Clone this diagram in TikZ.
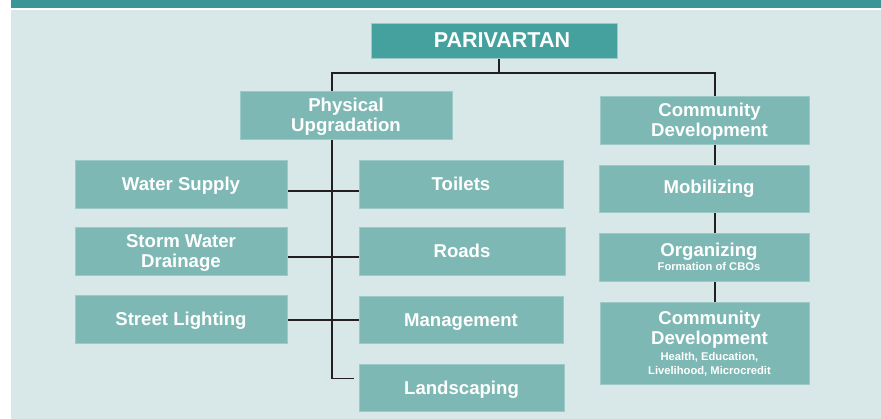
\documentclass[tikz,border=0pt]{standalone}
\usepackage{fontspec}
\setmainfont{Liberation Sans}
\usetikzlibrary{backgrounds}
\definecolor{bgc}{HTML}{D8E8E8}
\definecolor{barc}{HTML}{3A9599}
\definecolor{topc}{HTML}{45A19D}
\definecolor{boxc}{HTML}{7DB8B4}
\definecolor{edgec}{HTML}{9CCBC7}
\definecolor{linec}{HTML}{231F20}
\tikzset{
  box/.style={fill=boxc, draw=edgec, line width=0.6pt, inner sep=0pt, align=center,
    text=white, font=\fontsize{18.6}{20}\selectfont\bfseries},
  oneline/.style={text height=13.4pt, text depth=0pt},
  topbox/.style={box, fill=topc, font=\fontsize{21.5}{24}\selectfont\bfseries},
  conn/.style={draw=linec, line width=1.8pt},
}
\newcommand{\subtxt}[1]{{\fontsize{11.2}{14}\selectfont #1}}
\newcommand{\rsh}{\hspace*{10pt}}
\begin{document}
\begin{tikzpicture}[x=1pt,y=-1pt]
\useasboundingbox (0,0) rectangle (881,419);
% nodes
\node[topbox, minimum width=246pt, minimum height=35pt] (par) at (494,40.5) {\hspace*{16pt}PARIVARTAN};
\node[box, text depth=-1pt, minimum width=212pt, minimum height=48pt] (phys) at (346,115) {Physical\\Upgradation};
\node[box, text depth=-1pt, minimum width=209pt, minimum height=48pt] (cd) at (704.5,120) {\rsh Community\\\rsh Development};
\node[box, oneline, minimum width=212pt, minimum height=48pt] (ws) at (181,184) {Water Supply};
\node[box, oneline, minimum width=204pt, minimum height=48pt] (toi) at (461,184) {Toilets};
\node[box, text depth=-1pt, minimum width=212pt, minimum height=48pt] (swd) at (181,251) {Storm Water\\Drainage};
\node[box, oneline, minimum width=206pt, minimum height=48pt] (roads) at (462,251) {Roads};
\node[box, oneline, minimum width=212pt, minimum height=48pt] (sl) at (181,319) {Street Lighting};
\node[box, oneline, minimum width=204pt, minimum height=47pt] (mgmt) at (461,319.5) {Management};
\node[box, oneline, minimum width=205pt, minimum height=47pt] (land) at (461.5,387.5) {Landscaping};
\node[box, minimum width=210pt, minimum height=47pt] (mob) at (704,188.5) {\rsh Mobilizing};
\node[box, text depth=-5pt, minimum width=210pt, minimum height=48pt] (org) at (704,257) {\rsh Organizing\\[-6pt]\rsh\subtxt{Formation of CBOs}};
\node[box, text depth=-5pt, minimum width=209pt, minimum height=82pt] (cdtwo) at (704.5,343) {\rsh Community\\\rsh Development\\[-4pt]\rsh\subtxt{Health, Education,}\\[-6pt]\rsh\subtxt{Livelihood, Microcredit}};
% helper coordinates
\coordinate (jz) at (499,73);
\coordinate (tl) at (332,73);
\coordinate (tr) at (715,73);
\coordinate (bend) at (354,378.5);
\coordinate (ha) at (0,191);
\coordinate (hb) at (0,257);
\coordinate (hc) at (0,320);
\begin{pgfonlayer}{background}
  \fill[white] (0,0) rectangle (881,419);
  \fill[barc] (11,0) rectangle (881,7.7);
  \fill[bgc] (11,10) rectangle (881,419);
  \draw[conn] (par.south -| jz) -- (jz);
  \draw[conn] ([xshift=-0.9pt]tl) -- ([xshift=0.9pt]tr);
  \draw[conn] (tl) |- (bend);
  \draw[conn] (tr) -- (cdtwo.north -| tr);
  \draw[conn] (ws.east |- ha) -- (toi.west |- ha);
  \draw[conn] (swd.east |- hb) -- (roads.west |- hb);
  \draw[conn] (sl.east |- hc) -- (mgmt.west |- hc);
\end{pgfonlayer}
\end{tikzpicture}
\end{document}
